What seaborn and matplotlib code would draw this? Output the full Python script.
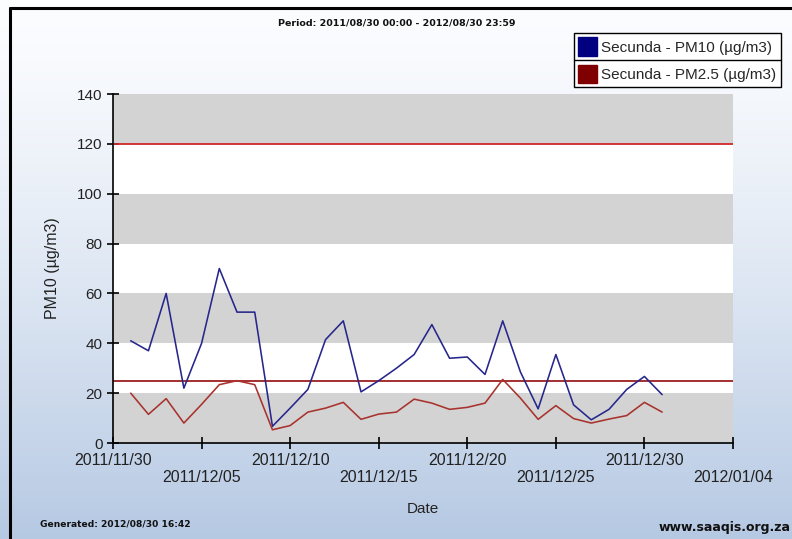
import numpy as np
import pandas as pd
import matplotlib
matplotlib.use("Agg")
import matplotlib.pyplot as plt
import seaborn as sns
from matplotlib.patches import Patch
from matplotlib.lines import Line2D

# Daily averages, Secunda station, December 2011
dates = [
    "2011-12-01", "2011-12-02", "2011-12-03", "2011-12-04", "2011-12-05",
    "2011-12-06", "2011-12-07", "2011-12-08", "2011-12-09", "2011-12-10",
    "2011-12-11", "2011-12-12", "2011-12-13", "2011-12-14", "2011-12-15",
    "2011-12-16", "2011-12-17", "2011-12-18", "2011-12-19", "2011-12-20",
    "2011-12-21", "2011-12-22", "2011-12-23", "2011-12-24", "2011-12-25",
    "2011-12-26", "2011-12-27", "2011-12-28", "2011-12-29", "2011-12-30",
    "2011-12-31",
]
pm10 = [41, 37, 60, 22, 40, 70, 52.5, 52.5, 6.7, 14, 21.5, 41.5, 49, 20.5, 25,
        30, 35.5, 47.5, 34, 34.5, 27.5, 49, 28.5, 13.7, 35.5, 15.3, 9.3, 13.5,
        21.5, 26.7, 19.4]
pm25 = [20, 11.5, 17.8, 8, 15.5, 23.4, 25, 23.4, 5.3, 7, 12.4, 14, 16.3, 9.5,
        11.6, 12.4, 17.6, 16, 13.5, 14.3, 16, 25.5, 18, 9.5, 15, 9.8, 8, 9.6,
        11, 16.3, 12.4]
series_names = ["Secunda - PM10 (µg/m3)", "Secunda - PM2.5 (µg/m3)"]
line_colors = ["#26268c", "#a8322d"]
patch_colors = ["#000080", "#800000"]
limit_values = [120, 25]
limit_colors = ["#d02828", "#9e1f1f"]
x_ticks = ["2011-11-30", "2011-12-05", "2011-12-10", "2011-12-15", "2011-12-20",
           "2011-12-25", "2011-12-30", "2012-01-04"]
y_ticks = [0, 20, 40, 60, 80, 100, 120, 140]

df = pd.DataFrame({
    "date": pd.to_datetime(dates * 2),
    "value": pm10 + pm25,
    "series": [series_names[0]] * len(pm10) + [series_names[1]] * len(pm25),
})

sns.set_theme(style="white")
plt.rcParams["font.family"] = ["Liberation Sans", "DejaVu Sans"]

fig = plt.figure(figsize=(7.92, 5.39), dpi=100)

# Gradient page background
bg = fig.add_axes([0, 0, 1, 1], zorder=0)
grad = np.linspace(0, 1, 256).reshape(-1, 1)
top_c = np.array([252, 253, 255]) / 255
bot_c = np.array([182, 201, 227]) / 255
img = top_c + (bot_c - top_c) * grad[:, :, None] ** 1.3
bg.imshow(img, aspect="auto", extent=[0, 1, 0, 1])
bg.set_xlim(0, 1)
bg.set_ylim(0, 1)
bg.axis("off")
# black frame on left and top
bg.plot([0.0125, 0.0125], [0, 0.986], color="black", lw=2.2)
bg.plot([0.0125, 1.0], [0.986, 0.986], color="black", lw=2.2)

ax = fig.add_axes([0.1427, 0.1781, 0.7828, 0.6475], zorder=1)
ax.set_facecolor("white")

# alternating bands
for i in range(0, len(y_ticks) - 1, 2):
    ax.axhspan(y_ticks[i], y_ticks[i + 1], color="#d3d3d3", lw=0, zorder=0)

for v, c in zip(limit_values, limit_colors):
    ax.axhline(v, color=c, lw=1.3, zorder=1)

sns.lineplot(data=df, x="date", y="value", hue="series", palette=line_colors,
             linewidth=1.15, legend=False, ax=ax, zorder=2)

ax.set_xlim(pd.Timestamp(x_ticks[0]), pd.Timestamp(x_ticks[-1]))
ax.set_ylim(0, 140)
ax.set_yticks(y_ticks)
ax.set_xticks(pd.to_datetime(x_ticks))
xlabels = []
for i, t in enumerate(x_ticks):
    lab = pd.Timestamp(t).strftime("%Y/%m/%d")
    xlabels.append(lab if i % 2 == 0 else "\n" + lab)
ax.set_xticklabels(xlabels, fontsize=11.5, color="#222222", linespacing=1.15)
ax.tick_params(axis="y", labelsize=11, labelcolor="#222222")
ax.tick_params(axis="both", direction="inout", length=9, width=1.2,
               color="black", left=True, bottom=True, pad=3)

for s in ["top", "right"]:
    ax.spines[s].set_visible(False)
for s in ["left", "bottom"]:
    ax.spines[s].set_color("black")
    ax.spines[s].set_linewidth(1.2)

ax.set_xlabel("Date", fontsize=11, color="#222222", labelpad=12)
ax.set_ylabel("PM10 (µg/m3)", fontsize=11.5, color="#222222", labelpad=12)

fig.text(0.501, 0.958, "Period: 2011/08/30 00:00 - 2012/08/30 23:59",
         ha="center", va="center", fontsize=6.8, fontweight="bold",
         family="DejaVu Sans", color="#111111")
fig.text(0.051, 0.028, "Generated: 2012/08/30 16:42", ha="left", va="center",
         fontsize=6.6, fontweight="bold", family="DejaVu Sans", color="#111111")
fig.text(0.998, 0.022, "www.saaqis.org.za", ha="right", va="center",
         fontsize=9, fontweight="bold", family="DejaVu Sans", color="#111111")

# boxed legend, one row per series with a divider
handles = [Patch(facecolor=c, edgecolor=c, label=n)
           for n, c in zip(series_names, patch_colors)]
leg = fig.legend(handles=handles, loc="upper right",
                 bbox_to_anchor=(0.986, 0.939), fontsize=11, frameon=True,
                 fancybox=False, handlelength=1.2, handleheight=1.45,
                 handletextpad=0.3, borderpad=0.3, labelspacing=0.6,
                 borderaxespad=0, edgecolor="black", facecolor="white",
                 framealpha=1)
leg.get_frame().set_linewidth(1.0)
leg.set_zorder(5)

fig.canvas.draw()
bb = leg.get_window_extent().transformed(fig.transFigure.inverted())
ymid = (bb.y0 + bb.y1) / 2
fig.add_artist(Line2D([bb.x0, bb.x1], [ymid, ymid], color="black", lw=1.0,
                      transform=fig.transFigure, zorder=6))

fig.savefig("out.png", dpi=100)
